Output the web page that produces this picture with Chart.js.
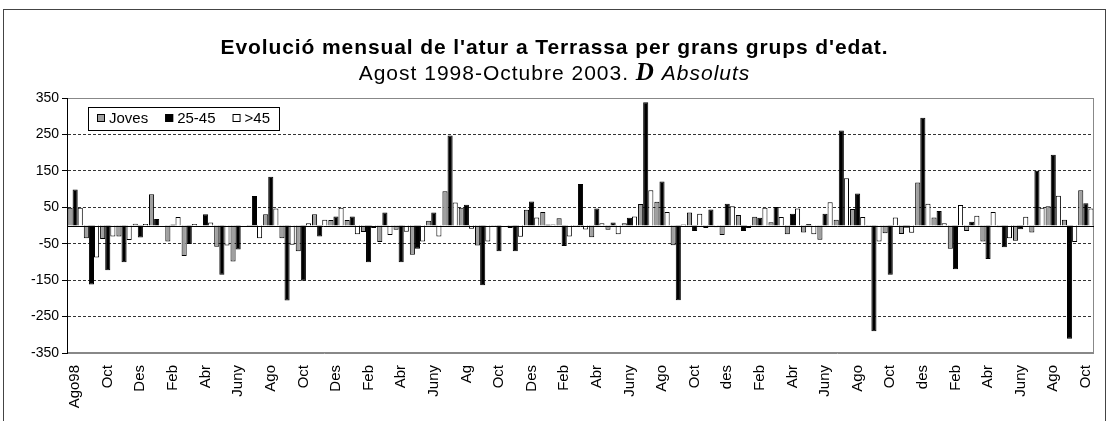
<!DOCTYPE html>
<html>
<head>
<meta charset="utf-8">
<script src="https://cdn.jsdelivr.net/npm/chart.js@4.4.0/dist/chart.umd.min.js"></script>
<style>
  body { margin: 0; background: #fff; font-family: Arial, "Liberation Sans", sans-serif; }
  #wrap { position: absolute; left: 0; top: 0; width: 1109px; height: 421px; }
  #frame { position: absolute; left: 3px; top: 9px; width: 1101px; height: 420px; border: 1px solid #444; border-bottom: none; }
  .title { position: absolute; left: 0; width: 1109px; text-align: center; color: #000; white-space: nowrap; z-index: 2; line-height: 24px; }
  #t1 { top: 35px; font-size: 21px; font-weight: bold; letter-spacing: 0.9px; }
  #t2 { top: 60px; font-size: 21px; letter-spacing: 1px; }
  #t2 .d { font-family: "Liberation Serif", "DejaVu Serif", serif; font-weight: bold; font-style: italic; font-size: 25px; }
</style>
</head>
<body>
<div id="frame"></div>
<div class="title" id="t1">Evolució mensual de l'atur a Terrassa per grans grups d'edat.</div>
<div class="title" id="t2">Agost 1998-Octubre 2003. <span class="d">D</span> <i>Absoluts</i></div>
<div id="wrap"><canvas id="atur"></canvas></div>
<script>
// Mesos (agost 1998 - octubre 2003), etiqueta cada dos mesos
const mesos = ['Ago98','','Oct','','Des','','Feb','','Abr','','Juny','',
  'Ago','','Oct','','Des','','Feb','','Abr','','Juny','',
  'Ag','','Oct','','Des','','Feb','','Abr','','Juny','',
  'Ago','','Oct','','des','','Feb','','Abr','','Juny','',
  'Ago','','Oct','','des','','Feb','','Abr','','Juny','',
  'Ago','','Oct'];

// Variació mensual (absoluts)
const joves = [49,-35,-37,-30,5,86,-44,-84,0,-58,-99,-2,
  31,-35,-71,31,15,15,-18,-45,-12,-80,13,94,
  49,-55,-3,-7,43,37,20,-3,-32,-12,6,59,
  65,-54,36,-7,-26,29,24,9,-24,-19,-39,16,
  45,-3,-21,-23,118,22,-64,-15,-44,-5,-42,-19,
  53,16,97];
const edat2545 = [99,-162,-123,-101,-33,18,3,-51,31,-135,-66,81,
  134,-206,-152,-30,25,25,-101,36,-101,-64,36,247,
  57,-164,-71,-71,66,3,-56,114,47,8,21,338,
  121,-205,-15,44,60,-15,21,51,32,4,32,261,
  88,-290,-135,-6,296,40,-120,10,-92,-60,-10,150,
  194,-311,61];
const majors45 = [49,-88,-30,-40,4,0,23,4,8,-55,0,-35,
  47,-53,6,16,49,-24,-7,-26,-17,-44,-30,63,
  -9,-44,0,-31,22,3,-30,-11,6,-24,25,97,
  37,3,32,-5,53,-7,49,23,47,-24,64,130,
  23,-44,22,-20,60,6,56,27,37,-35,24,49,
  82,-45,47];

const yTicks = [-350, -250, -150, -50, 50, 150, 250, 350];

// llegenda dins l'àrea del gràfic, amb requadre
const legendInside = {
  id: 'legendInside',
  afterDraw(chart) {
    const c = chart.ctx;
    const area = chart.chartArea;
    c.save();
    // marc de l'àrea
    c.strokeStyle = '#888';
    c.lineWidth = 1;
    c.strokeRect(area.left + 0.5, area.top + 0.5, area.right - area.left - 1, area.bottom - area.top - 1);
    // línia del zero
    const y0 = Math.round(chart.scales.y.getPixelForValue(0)) + 0.5;
    c.strokeStyle = '#000';
    c.beginPath(); c.moveTo(area.left, y0); c.lineTo(area.right, y0); c.stroke();
    // eix vertical
    c.beginPath(); c.moveTo(area.left + 0.5, area.top); c.lineTo(area.left + 0.5, area.bottom); c.stroke();

    c.font = '15px Arial, "Liberation Sans"';
    c.textBaseline = 'middle';
    let x = 97;
    const yMid = 119;
    const items = chart.data.datasets.map(d => {
      const w = c.measureText(d.label).width;
      return { d, w };
    });
    let total = 9;
    items.forEach(it => { total += 12 + it.w + 17; });
    c.fillStyle = '#fff';
    c.fillRect(88, 107, total - 8, 23);
    c.strokeStyle = '#000';
    c.strokeRect(88.5, 107.5, total - 8, 23);
    items.forEach(it => {
      c.fillStyle = it.d.backgroundColor;
      c.fillRect(x, yMid - 5, 8, 8);
      c.strokeStyle = '#000';
      c.strokeRect(x + 0.5, yMid - 4.5, 7, 7);
      c.fillStyle = '#000';
      c.fillText(it.d.label, x + 12, yMid);
      x += 12 + it.w + 17;
    });
    c.restore();
  }
};

const ctx = document.getElementById('atur').getContext('2d');
const aturChart = new Chart(ctx, {
  type: 'bar',
  data: {
    labels: mesos,
    datasets: [
      { label: 'Joves', data: joves, backgroundColor: '#a0a0a0', borderColor: '#000', borderWidth: 1 },
      { label: '25-45', data: edat2545, backgroundColor: '#000000', borderColor: '#000', borderWidth: 1 },
      { label: '>45', data: majors45, backgroundColor: '#ffffff', borderColor: '#000', borderWidth: 1 }
    ]
  },
  options: {
    responsive: true,
    maintainAspectRatio: false,
    animation: false,
    layout: { padding: { top: 98, right: 15, left: 0, bottom: 0 } },
    plugins: { legend: { display: false }, title: { display: false }, tooltip: { enabled: false } },
    datasets: { bar: { categoryPercentage: 0.94, barPercentage: 1.0 } },
    scales: {
      x: {
        grid: { display: false },
        border: { display: false },
        ticks: {
          autoSkip: false, maxRotation: 90, minRotation: 90, padding: 4,
          color: '#000', font: { family: 'Arial, "Liberation Sans"', size: 15 }
        },
        afterFit: s => { s.height = 68; }
      },
      y: {
        min: -350, max: 350,
        afterBuildTicks: s => { s.ticks = yTicks.map(v => ({ value: v })); },
        grid: {
          color: c => (c.tick && Math.abs(c.tick.value) === 350) ? '#888' : '#333',
          tickColor: '#000', tickLength: 5
        },
        border: {
          color: '#000',
          dash: c => (c.tick && Math.abs(c.tick.value) === 350) ? [] : [3, 2]
        },
        ticks: { padding: 3, color: '#000', font: { family: 'Arial, "Liberation Sans"', size: 14 } },
        afterFit: s => { s.width = 67; }
      }
    }
  },
  plugins: [legendInside]
});
</script>
</body>
</html>
